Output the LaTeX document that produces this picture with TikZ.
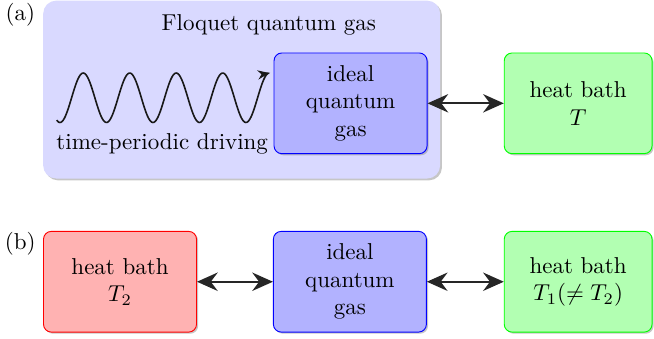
\documentclass[tikz,border=0pt]{standalone}
\usetikzlibrary{shadows,arrows.meta}
\tikzset{
  box/.style={draw, rounded corners=0.12cm, minimum width=2.34cm, minimum height=1.54cm, align=center,
    drop shadow={shadow xshift=.7pt, shadow yshift=-.7pt, opacity=.45}},
  gas/.style={box, draw=blue, fill=blue!30},
  hot/.style={box, draw=red, fill=red!30},
  cold/.style={box, draw=green, fill=green!30, minimum width=2.26cm},
  link/.style={<->, line width=0.9pt, black!85},
}
\begin{document}
\begin{tikzpicture}[>={Stealth[length=9pt,width=8pt,inset=3pt]}]
\useasboundingbox (0,0) rectangle (10,5.18);
\begin{scope}
\node[fill=blue!15, rounded corners=0.2cm, minimum width=6.07cm, minimum height=2.72cm,
  drop shadow={shadow xshift=.8pt, shadow yshift=-.8pt, opacity=.45}](F) at (3.695,3.81){};
\node(a) at (0.31,4.95){(a)};
\node(FL) at (4.11,4.80){Floquet quantum gas};
\node[gas](G) at (5.36,3.60){ideal\\quantum\\gas};
\node[cold](B) at (8.84,3.60){heat bath\\$T$};
\draw[link](G) -- (B);
\draw[-{Stealth[length=5pt,width=4pt]}, line width=0.7pt, black!90, smooth, samples=200, domain=0.867:4.117]
  plot (\x, {3.685-0.378*cos(360*(\x-0.917)/0.711)});
\node(D) at (2.48,2.98){time-periodic driving};
\end{scope}
\begin{scope}
\node(b) at (0.31,1.45){(b)};
\node[hot](H) at (1.835,0.872){heat bath\\$T_2$};
\node[gas](G2) at (5.35,0.872){ideal\\quantum\\gas};
\node[cold](C) at (8.84,0.872){heat bath\\$T_1(\neq T_2)$};
\draw[link](H) -- (G2);
\draw[link](G2) -- (C);
\end{scope}
\end{tikzpicture}
\end{document}
